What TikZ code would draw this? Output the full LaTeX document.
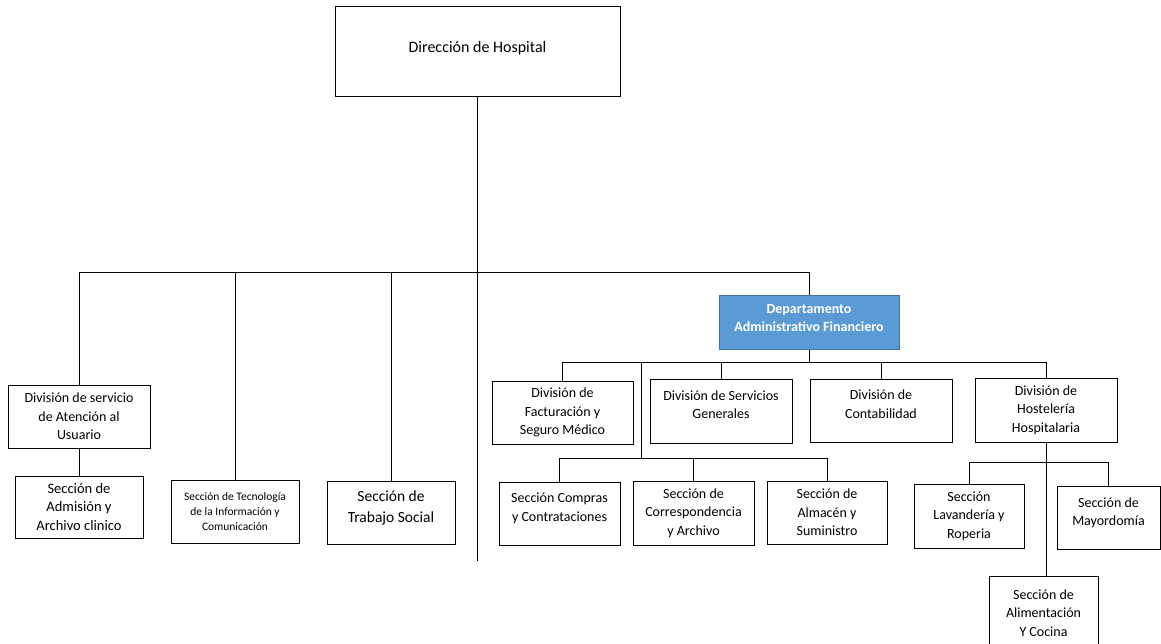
\documentclass[tikz,border=0pt]{standalone}
\usepackage{fontspec}
\setmainfont{Carlito}
\definecolor{azulDep}{HTML}{5B9BD5}
\definecolor{bordeDep}{HTML}{41719C}
\begin{document}
\begin{tikzpicture}[x=1pt,y=-1pt,line width=1pt,
    caja/.style={draw,align=center,inner sep=2pt,font=\fontsize{14}{18.5}\selectfont},
    cajadep/.style={caja,fill=azulDep,draw=bordeDep,text=white,font=\fontsize{14}{18.5}\selectfont\bfseries}]
            %\draw[ultra thin,gray!20](0,0) grid[step=50] (1161,644);
            \useasboundingbox (0,0) rectangle (1161,644);
            % direccion
            \node[caja,minimum width=285,minimum height=90,font=\fontsize{16}{18}\selectfont] (dir) at (477.5,52) {Dirección de Hospital\\[-8pt]~};
            % primer nivel
            \node[caja,minimum width=142,minimum height=63] (usuario) at (79,416.5) {División de servicio\\de Atención al\\Usuario};
            \node[caja,minimum width=128,minimum height=62,font=\fontsize{14.5}{18.5}\selectfont] (admision) at (79,507) {Sección de\\Admisión y\\Archivo clinico};
            \node[caja,minimum width=128,minimum height=63,font=\fontsize{11.5}{15}\selectfont] (tic) at (235,511.5) {Sección de Tecnología\\de la Información y\\Comunicación};
            \node[caja,minimum width=128,minimum height=63,font=\fontsize{15.5}{21}\selectfont] (trabajo) at (391,512.5) {Sección de\\Trabajo Social\\[-10pt]~};
            \node[cajadep,minimum width=180,minimum height=54] (dep) at (809,322) {Departamento\\Administrativo Financiero\\[-10pt]~};
            % divisiones del departamento
            \node[caja,minimum width=141,minimum height=63] (factura) at (562.5,412.5) {División de\\Facturación y\\Seguro Médico};
            \node[caja,minimum width=142,minimum height=64] (servicios) at (721,411) {División de Servicios\\Generales\\[-6pt]~};
            \node[caja,minimum width=142,minimum height=63] (contab) at (881,410.5) {División de\\Contabilidad\\[-6pt]~};
            \node[caja,minimum width=142,minimum height=64] (host) at (1046,410) {División de\\Hostelería\\Hospitalaria};
            % secciones
            \node[caja,minimum width=121,minimum height=63] (compras) at (559.5,513.5) {Sección Compras\\y Contrataciones\\[-6pt]~};
            \node[caja,minimum width=121,minimum height=64] (corresp) at (693.5,513) {Sección de\\Correspondencia\\y Archivo};
            \node[caja,minimum width=120,minimum height=63] (almacen) at (827,512.5) {Sección de\\Almacén y\\Suministro};
            \node[caja,minimum width=110,minimum height=64] (lavanderia) at (969,516) {Sección\\Lavandería y\\Roperia};
            \node[caja,minimum width=103,minimum height=63] (mayor) at (1108.5,517.5) {Sección de\\Mayordomía\\[-7pt]~};
            \node[caja,minimum width=109,minimum height=74] (aliment) at (1043.5,613) {Sección de\\Alimentación\\Y Cocina};
            % puntos de las lineas
            \coordinate (finDir) at (477.5,561);
            \coordinate (nivel1) at (0,272);
            \coordinate (nivel2) at (0,362);
            \coordinate (nivel3) at (0,458);
            \coordinate (nivel4) at (0,462);
            \coordinate (ramaS) at (641,362);
            % conectores
            \draw (dir.south) -- (finDir);
            \draw (usuario.north) |- (nivel1 -| dep.north) -- (dep.north);
            \draw (tic.north) -- (tic.north |- nivel1);
            \draw (trabajo.north) -- (trabajo.north |- nivel1);
            \draw (usuario.south) -- (admision.north);
            \draw (dep.south) -- (dep.south |- nivel2);
            \draw (factura.north) |- (nivel2 -| host.north) -- (host.north);
            \draw (servicios.north) -- (servicios.north |- nivel2);
            \draw (contab.north) -- (contab.north |- nivel2);
            \draw (ramaS) -- (ramaS |- nivel3);
            \draw (compras.north) |- (nivel3 -| almacen.north) -- (almacen.north);
            \draw (corresp.north) -- (corresp.north |- nivel3);
            \draw (host.south) -- (host.south |- aliment.north);
            \draw (lavanderia.north) |- (nivel4 -| mayor.north) -- (mayor.north);
\end{tikzpicture}
\end{document}
